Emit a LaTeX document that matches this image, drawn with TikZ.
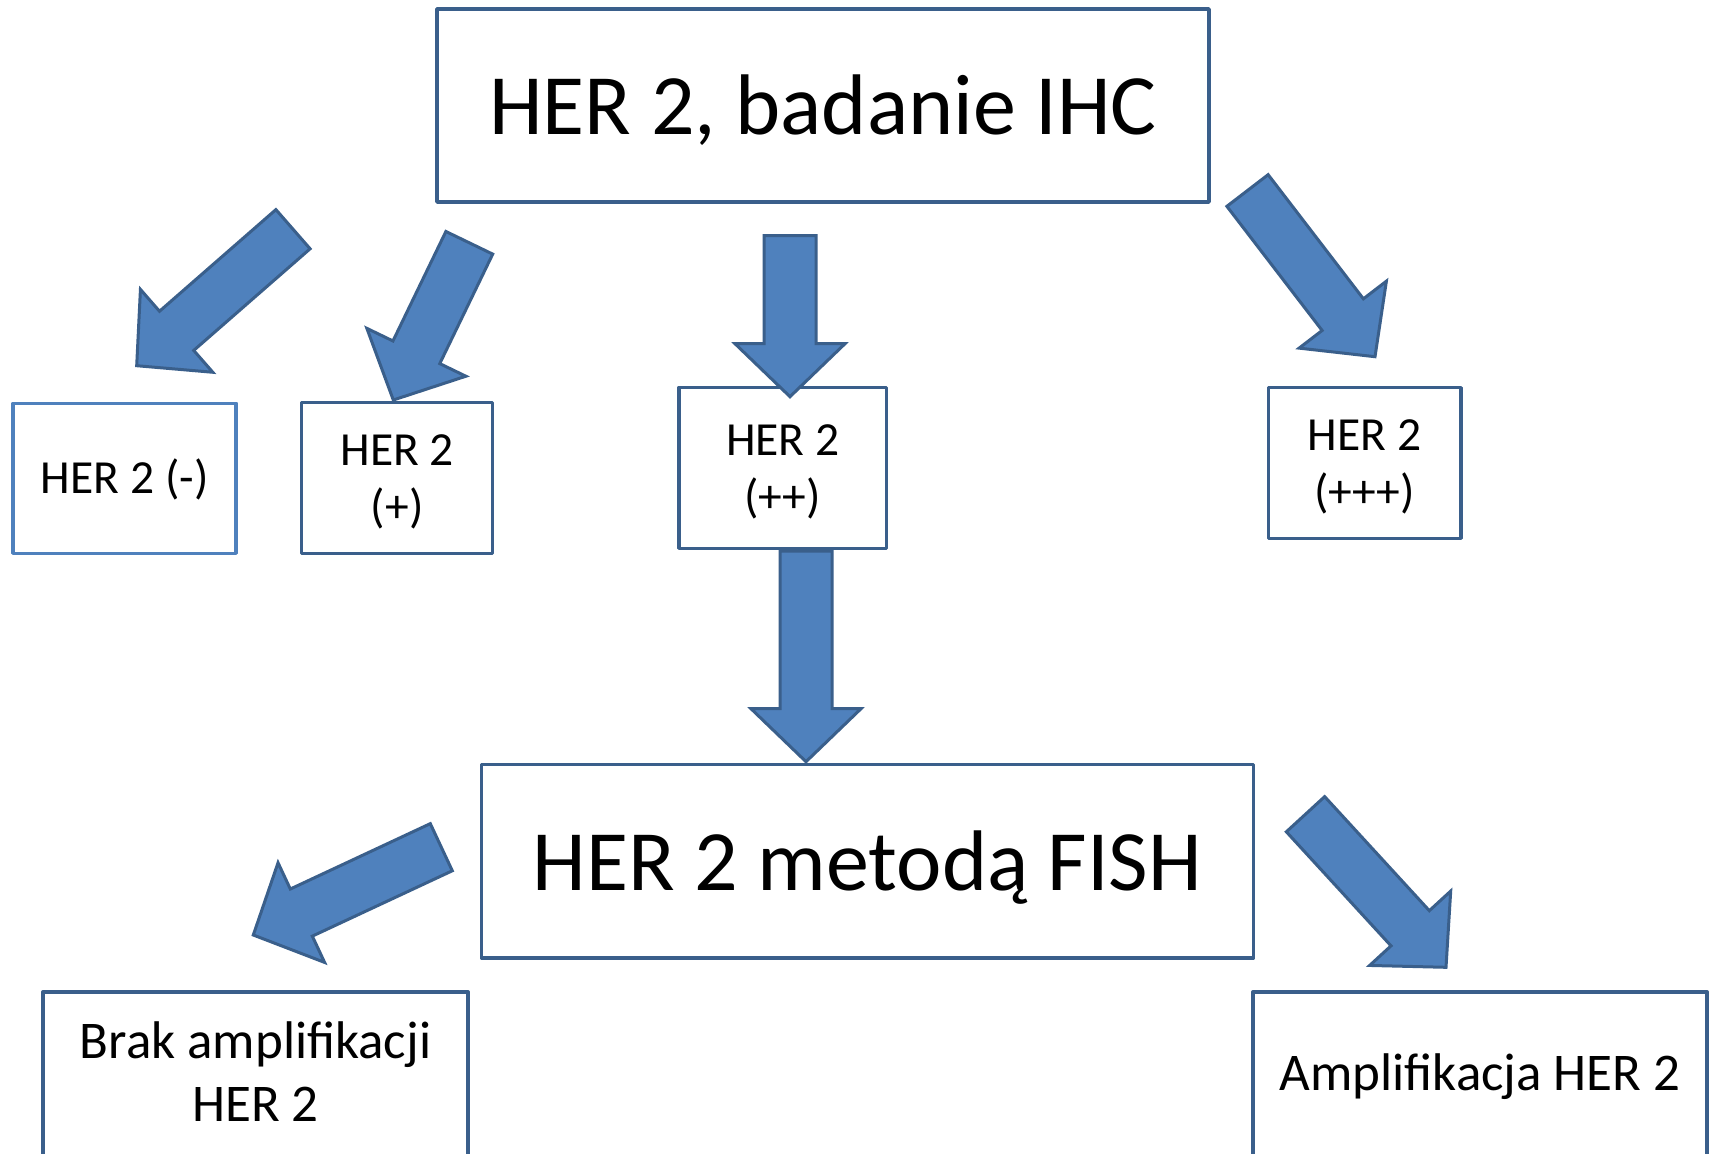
\documentclass[tikz,border=0pt]{standalone}
\usepackage{fontspec}
\setmainfont{Carlito}
\usetikzlibrary{calc}

\definecolor{frameblue}{HTML}{3A5F8B}
\definecolor{lightframe}{HTML}{4F81BD}
\definecolor{arrowfill}{HTML}{4F81BD}
\definecolor{arrowline}{HTML}{3A5F8B}

% block arrow geometry (half shaft width, half head width, head length)
\newcommand\arrShaft{26pt}
\newcommand\arrHead{55pt}
\newcommand\arrHeadLen{53pt}

% \blockarrow{tail}{tip}{name}: a broad filled arrow from tail to tip
\newcommand\blockarrow[3]{%
  \coordinate (#3-b) at ($(#2)!\arrHeadLen!(#1)$);
  \draw[barrow]
    ($(#1)!\arrShaft!90:(#2)$) -- ($(#3-b)!\arrShaft!90:(#2)$)
    -- ($(#3-b)!\arrHead!90:(#2)$) -- (#2)
    -- ($(#3-b)!\arrHead!-90:(#2)$) -- ($(#3-b)!\arrShaft!-90:(#2)$)
    -- ($(#1)!\arrShaft!-90:(#2)$) -- cycle;
}

% invisible struts fixing the extent of two-line labels
\newcommand\headroom[1]{\rule{0pt}{#1}}
\newcommand\footroom[1]{\rule[-#1]{0pt}{#1}}

\tikzset{
  frame/.style={draw=frameblue, line width=3.5pt, line join=round},
  box/.style={frame, fill=white, inner sep=0pt, align=center, text=black},
  bigtext/.style={font=\fontsize{86}{100}\selectfont},
  smalltext/.style={font=\fontsize{47.5}{57}\selectfont},
  midtext/.style={font=\fontsize{53}{63.4}\selectfont},
  barrow/.style={fill=arrowfill, draw=arrowline, line width=3pt, line join=miter},
}

\begin{document}
\begin{tikzpicture}[x=1pt, y=-1pt]
\useasboundingbox (0,0) rectangle (1712,1153);
\fill[white] (0,0) rectangle (1712,1153);
\clip (0,0) rectangle (1712,1153);

% boxes
\node[box, bigtext, text height=59pt, text depth=0pt, minimum width=772, minimum height=193] (ihc) at (823,105.5) {HER 2, badanie IHC};
\node[box, smalltext, draw=lightframe, text height=29.4pt, text depth=0pt, minimum width=223, minimum height=150] (neg) at (124.7,478.3) {HER 2 (-)};
\node[box, smalltext, minimum width=191, minimum height=150.6] (pos1) at (397.2,478) {\headroom{50pt}HER 2\\(+)\footroom{18pt}};
\node[box, smalltext, minimum width=207.7, minimum height=161] (pos2) at (782.8,467.8) {\headroom{50pt}HER 2\\(++)\footroom{18pt}};
\node[box, smalltext, minimum width=192.7, minimum height=150.6] (pos3) at (1364.6,463) {\headroom{50pt}HER 2\\(+++)\footroom{18pt}};
\node[box, bigtext, text height=58pt, text depth=0pt, minimum width=772, minimum height=193.5] (fish) at (867.5,861) {HER 2 metodą FISH};

% result boxes continue past the lower edge
\node[midtext, inner sep=0pt, align=center, minimum width=424.4, minimum height=158] (nonamp) at (255.5,1071) {\headroom{58pt}Brak amplifikacji\\HER 2\footroom{20pt}};
\draw[frame] (nonamp.north west) ++(0,220) -- (nonamp.north west) -- (nonamp.north east) -- ++(0,220);
\node[midtext, inner sep=0pt, text height=26pt, text depth=0pt, minimum width=453.4, minimum height=170] (amp) at (1480,1077) {Amplifikacja HER 2};
\draw[frame] (amp.north west) ++(0,220) -- (amp.north west) -- (amp.north east) -- ++(0,220);

% arrow end points
\coordinate (a1t) at (293,229.2);    \coordinate (a1h) at (136.7,365.7);
\coordinate (a2t) at (469.3,242.8);  \coordinate (a2h) at (393.3,400);
\coordinate (a3t) at (790,235.7);    \coordinate (a3h) at (790,396.7);
\coordinate (a4t) at (1247.5,190.5); \coordinate (a4h) at (1375,356.7);
\coordinate (a5t) at (806,551);      \coordinate (a5h) at (806,761.7);
\coordinate (a6t) at (441.3,847.2);  \coordinate (a6h) at (253.3,935);
\coordinate (a7t) at (1305.5,814.2); \coordinate (a7h) at (1446,967.3);

% arrows
\blockarrow{a1t}{a1h}{a1}
\blockarrow{a2t}{a2h}{a2}
\blockarrow{a3t}{a3h}{a3}
\blockarrow{a4t}{a4h}{a4}
\blockarrow{a5t}{a5h}{a5}
\blockarrow{a6t}{a6h}{a6}
\blockarrow{a7t}{a7h}{a7}
\end{tikzpicture}
\end{document}
